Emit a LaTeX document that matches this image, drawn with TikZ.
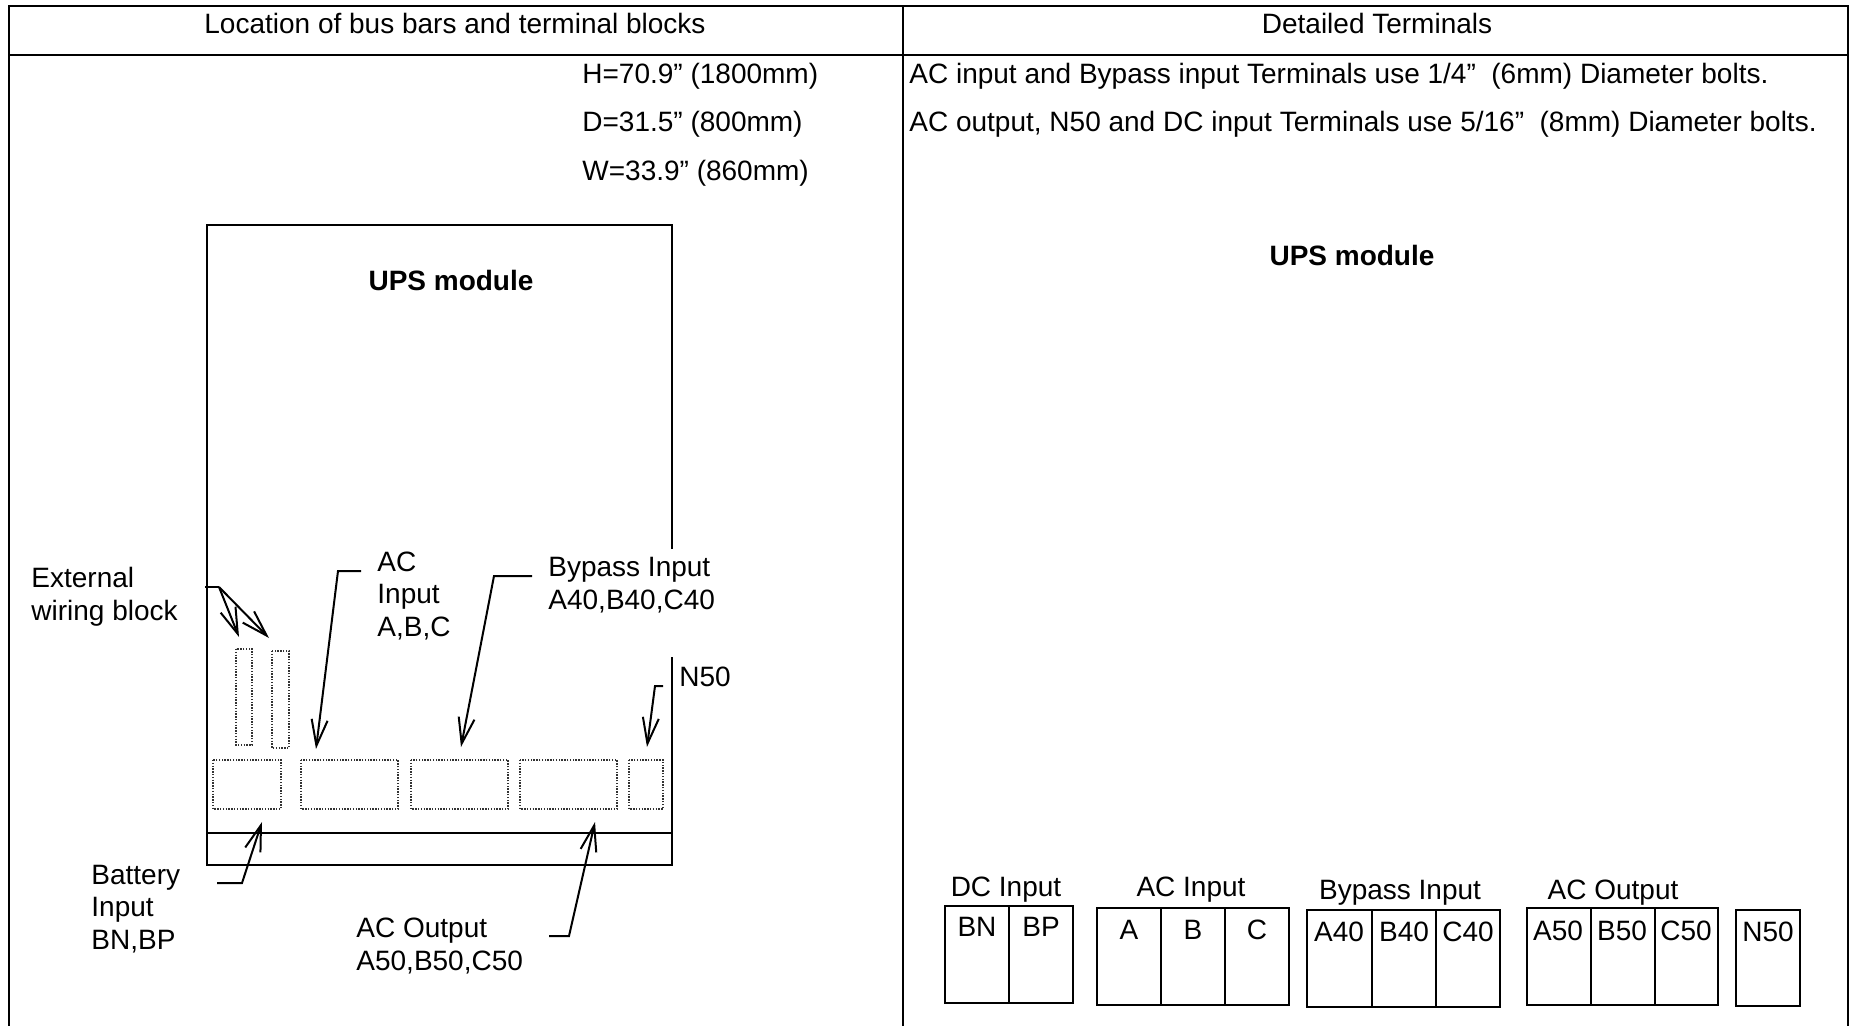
\documentclass[tikz,border=0pt]{standalone}
\usepackage{fontspec}
\setmainfont{Liberation Sans}
\usetikzlibrary{arrows.meta}
\tikzset{>={Straight Barb[length=13pt,width=8pt]}}
\tikzset{
    frameline/.style={line width=1.4pt},
    boxline/.style={line width=1.1pt},
    busblock/.style={line width=0.7pt, black!80, dash pattern=on 0.7pt off 0.7pt},
    leader/.style={line width=1pt, ->},
    termbox/.style={line width=1.4pt},
    lbl/.style={anchor=base west, inner sep=0pt, align=left, font=\fontsize{14}{16.25}\selectfont},
    lblc/.style={anchor=center, inner sep=0pt, font=\fontsize{14}{16.25}\selectfont},
    lblb/.style={anchor=center, inner sep=0pt, font=\fontsize{14}{16.25}\selectfont\bfseries},
}

\begin{document}
\begin{tikzpicture}[x=0.5pt,y=-0.5pt]
        \useasboundingbox (0,0) rectangle (1850,1026);

        % table frame
        \draw[frameline] (9,1026) -- (9,6) -- (1848,6) -- (1848,1026);
        \draw[frameline] (9,55) -- (1848,55);
        \draw[frameline] (903,6) -- (903,1026);
        \node[lblc] (headleft) at (455,23) {Location of bus bars and terminal blocks};
        \node[lblc] (headright) at (1377,23) {Detailed Terminals};

        % dimensions
        \node[lbl] (dimh) at (582,84) {H=70.9” (1800mm)};
        \node[lbl] (dimd) at (582,132) {D=31.5” (800mm)};
        \node[lbl] (dimw) at (582,181) {W=33.9” (860mm)};

        % bolt notes
        \node[lbl] (notea) at (909,84) {AC input and Bypass input Terminals use 1/4”\ \ (6mm) Diameter bolts.};
        \node[lbl] (noteb) at (909,132) {AC output, N50 and DC input Terminals use 5/16”\ \ (8mm) Diameter bolts.};

        % ups cabinet
        \draw[boxline] (672,549) -- (672,225) -- (207,225) -- (207,865) -- (672,865) -- (672,657);
        \draw[boxline] (207,833) -- (672,833);
        \node[lblb] (upsleft) at (451,280) {UPS module};
        \node[lblb] (upsright) at (1352,255) {UPS module};

        % bus bars
        \draw[busblock] (213,760) rectangle (281,809);
        \draw[busblock] (301,760) rectangle (398,809);
        \draw[busblock] (411,760) rectangle (508,809);
        \draw[busblock] (520,760) rectangle (617,809);
        \draw[busblock] (629,760) rectangle (663,809);

        % wiring blocks
        \draw[busblock] (236,649) rectangle (252,745);
        \draw[busblock] (272,651) rectangle (289,748);

        % leader ends
        \coordinate (extstart) at (205,587);
        \coordinate (extbend) at (219,587);
        \coordinate (extone) at (239,637);
        \coordinate (exttwo) at (269,638);
        \coordinate (acinstart) at (361,571);
        \coordinate (acinbend) at (338,571);
        \coordinate (acintip) at (316,749);
        \coordinate (bypstart) at (532,576);
        \coordinate (bypbend) at (494,576);
        \coordinate (byptip) at (461,747);
        \coordinate (nstart) at (663,686);
        \coordinate (nbend) at (655,686);
        \coordinate (ntip) at (647,747);
        \coordinate (batstart) at (217,883);
        \coordinate (batbend) at (242,883);
        \coordinate (battip) at (262,822);
        \coordinate (acoutstart) at (549,936);
        \coordinate (acoutbend) at (569,936);
        \coordinate (acouttip) at (595,822);

        % leaders
        \draw[line width=1pt] (extstart) -- (extbend);
        \draw[leader] (extbend) -- (extone);
        \draw[leader] (extbend) -- (exttwo);
        \draw[leader] (acinstart) -- (acinbend) -- (acintip);
        \draw[leader] (bypstart) -- (bypbend) -- (byptip);
        \draw[leader] (nstart) -- (nbend) -- (ntip);
        \draw[leader] (batstart) -- (batbend) -- (battip);
        \draw[leader] (acoutstart) -- (acoutbend) -- (acouttip);

        % leader labels
        \node[lbl] (extlabel) at (31,620) {External\\wiring block};
        \node[lbl] (acinlabel) at (377,636) {AC\\Input\\A,B,C};
        \node[lbl] (byplabel) at (548,609) {Bypass Input\\A40,B40,C40};
        \node[lbl] (nlabel) at (679,686) {N50};
        \node[lbl] (batlabel) at (91,949) {Battery\\Input\\BN,BP};
        \node[lbl] (acoutlabel) at (356,970) {AC Output\\A50,B50,C50};

        % dc input
        \draw[termbox] (945,906) rectangle (1073,1003);
        \draw[termbox] (1009,906) -- (1009,1003);
        \node[lblc] (dchead) at (1006,890) {DC Input};
        \node[lblc] (bn) at (977,927) {BN};
        \node[lblc] (bp) at (1041,927) {BP};

        % ac input
        \draw[termbox] (1097,908) rectangle (1289,1005);
        \draw[termbox] (1161,908) -- (1161,1005);
        \draw[termbox] (1225,908) -- (1225,1005);
        \node[lblc] (achead) at (1191,890) {AC Input};
        \node[lblc] (ta) at (1129,930) {A};
        \node[lblc] (tb) at (1193,930) {B};
        \node[lblc] (tc) at (1257,930) {C};

        % bypass input
        \draw[termbox] (1307,910) rectangle (1500,1007);
        \draw[termbox] (1372,910) -- (1372,1007);
        \draw[termbox] (1436,910) -- (1436,1007);
        \node[lblc] (byphead) at (1400,893) {Bypass Input};
        \node[lblc] (a40) at (1339,932) {A40};
        \node[lblc] (b40) at (1404,932) {B40};
        \node[lblc] (c40) at (1468,932) {C40};

        % ac output
        \draw[termbox] (1527,908) rectangle (1718,1005);
        \draw[termbox] (1591,908) -- (1591,1005);
        \draw[termbox] (1655,908) -- (1655,1005);
        \node[lblc] (outhead) at (1613,893) {AC Output};
        \node[lblc] (a50) at (1558,931) {A50};
        \node[lblc] (b50) at (1622,931) {B50};
        \node[lblc] (c50) at (1686,931) {C50};

        % neutral
        \draw[termbox] (1736,910) rectangle (1800,1006);
        \node[lblc] (n50) at (1768,932) {N50};
    \end{tikzpicture}
\end{document}
